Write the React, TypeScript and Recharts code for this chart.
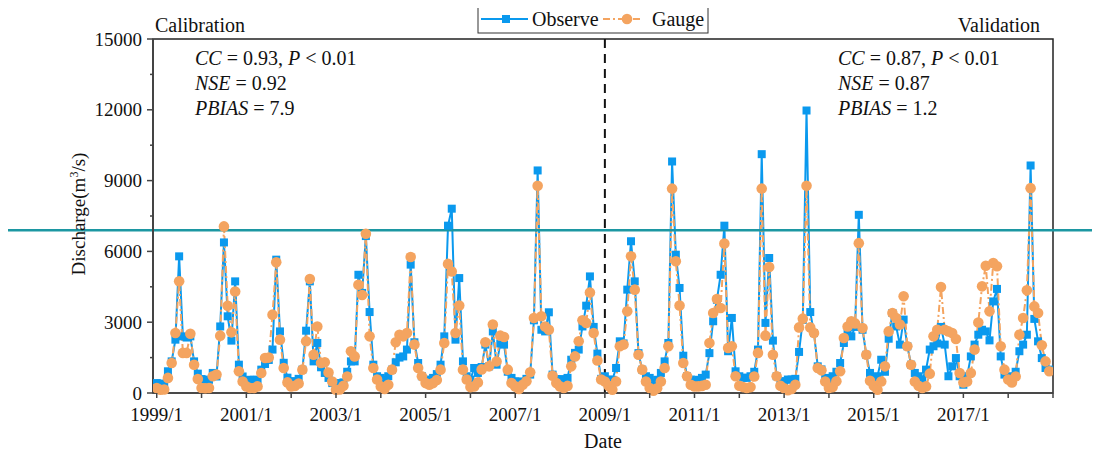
import React from "react";
import {
  LineChart,
  Line,
  XAxis,
  YAxis,
  ReferenceLine,
  ReferenceArea,
} from "recharts";

// Monthly discharge (m3/s), 1999/1 .. 2018/12
const observe = [
  420, 400, 360, 920, 1340, 2260, 5790, 2400, 2350, 2400, 1340, 820,
  590, 560, 560, 850, 700, 2820, 6380, 3250, 2220, 4730, 1200, 700,
  500, 560, 560, 560, 990, 1230, 1400, 1840, 5650, 2610, 1280, 650,
  500, 490, 600, 990, 2640, 4730, 1340, 2120, 1090, 850, 640, 420,
  420, 400, 450, 900, 1340, 1340, 5010, 4240, 6650, 3430, 1200, 710,
  640, 560, 710, 990, 1300, 1500, 1550, 1840, 5440, 2150, 1270, 710,
  570, 500, 640, 800, 1200, 2400, 7090, 7810, 2260, 4870, 1340, 710,
  570, 1060, 850, 1100, 2050, 1130, 2610, 1200, 2100, 2050, 900, 640,
  490, 490, 420, 600, 780, 3080, 9430, 2680, 2610, 3420, 780, 590,
  590, 500, 640, 1410, 1700, 1840, 2820, 3700, 4940, 2800, 1670, 600,
  710, 570, 560, 1060, 2190, 2100, 4380, 6430, 4730, 1690, 990, 710,
  640, 420, 560, 850, 1340, 2120, 9810, 5860, 4450, 1580, 710, 570,
  490, 560, 640, 780, 1690, 3040, 3950, 5010, 7090, 1770, 3180, 920,
  710, 650, 640, 710, 900, 1840, 10120, 2970, 5720, 2220, 710, 490,
  500, 570, 570, 600, 1740, 3100, 11970, 3430, 2540, 1130, 1000, 640,
  560, 710, 900, 1270, 2120, 2540, 2400, 2800, 7550, 2680, 1620, 850,
  640, 710, 1410, 900, 2300, 3390, 2820, 2050, 3110, 1980, 1200, 850,
  710, 570, 990, 1840, 1980, 2100, 2800, 2050, 710, 1130, 1480, 710,
  350, 710, 1550, 2050, 2470, 2680, 2610, 2230, 3880, 4410, 1550, 780,
  710, 640, 900, 1770, 2050, 2470, 9640, 3140, 2190, 1480, 1060, 990,
];

const gauge = [
  210, 140, 150, 640, 1270, 2540, 4730, 1700, 1700, 2510, 1200, 590,
  210, 200, 210, 710, 780, 2430, 7060, 3700, 2570, 4300, 920, 490,
  280, 210, 210, 280, 850, 1480, 1500, 3320, 5540, 2260, 1060, 450,
  280, 300, 400, 990, 2190, 4830, 1620, 2820, 1270, 1300, 870, 490,
  140, 150, 310, 700, 1770, 1550, 4590, 4150, 6750, 2400, 1060, 570,
  280, 170, 350, 990, 2150, 2470, 2400, 2540, 5760, 2050, 1060, 710,
  420, 350, 420, 550, 990, 2120, 5470, 5150, 2540, 3710, 990, 570,
  250, 280, 450, 1000, 2150, 1130, 2900, 1340, 2430, 2370, 990, 420,
  280, 170, 350, 500, 880, 3180, 8780, 3250, 2820, 2680, 730, 420,
  280, 210, 300, 1130, 1550, 2190, 3080, 2970, 4260, 2540, 1380, 570,
  490, 300, 140, 490, 1980, 2050, 3460, 5790, 4380, 1620, 990, 490,
  210, 100, 200, 490, 1060, 1980, 8660, 5580, 3710, 1270, 710, 350,
  280, 280, 300, 350, 2120, 3390, 3980, 3600, 6330, 1910, 1980, 710,
  310, 250, 210, 250, 700, 1700, 8660, 2430, 5340, 1620, 710, 310,
  200, 120, 170, 350, 2780, 3150, 8780, 2780, 2540, 1060, 960, 490,
  210, 250, 500, 920, 2330, 2820, 3040, 2950, 6350, 2750, 1620, 520,
  310, 140, 490, 1130, 2610, 3390, 3180, 2900, 4100, 1980, 1200, 490,
  310, 210, 280, 820, 2400, 2680, 4490, 2680, 2610, 2540, 2290, 850,
  450, 490, 850, 1840, 2990, 4520, 5390, 3460, 5510, 5370, 1980, 990,
  570, 450, 700, 2470, 3180, 4350, 8680, 3670, 3390, 2020, 1340, 920,
];

// month index of each yearly tick (0 = 1999/1)
const monthTicks = [
  0, 12, 24, 36, 48, 60, 72, 84, 96, 108, 120, 132, 144, 156, 168, 180, 192,
  204, 216, 228, 240,
];
const yearLabels = [
  "1999/1", "2001/1", "2003/1", "2005/1", "2007/1",
  "2009/1", "2011/1", "2013/1", "2015/1", "2017/1",
];
const yTicks = [
  0, 1500, 3000, 4500, 6000, 7500, 9000, 10500, 12000, 13500, 15000,
];
const splitMonth = 120; // calibration / validation boundary
const threshold = 6900;

const data = observe.map((v, i) => ({ month: i, observe: v, gauge: gauge[i] }));

const FONT = '"Liberation Serif", "Times New Roman", serif';
const BLUE = "#0a99ee";
const ORANGE = "#f4a460";
const AXIS = "#444";

const renderXTick = (props: any) => {
  const { x, y, payload } = props;
  const t = payload.value as number;
  const label = t % 24 === 0 ? yearLabels[t / 24] : undefined;
  return (
    <g>
      <line x1={x} x2={x} y1={y} y2={y + 5} stroke={AXIS} strokeWidth={1.5} />
      {label && (
        <text x={x} y={y + 28} textAnchor="middle" fontSize={19} fontFamily={FONT} fill="#111">
          {label}
        </text>
      )}
    </g>
  );
};

const renderYTick = (props: any) => {
  const { x, y, payload } = props;
  const v = payload.value as number;
  const major = v % 3000 === 0;
  return (
    <g>
      <line x1={x} x2={x - (major ? 6 : 3)} y1={y} y2={y} stroke={AXIS} strokeWidth={1.5} />
      {major && (
        <text x={x - 11} y={y} dy={6.5} textAnchor="end" fontSize={19} fontFamily={FONT} fill="#111">
          {v}
        </text>
      )}
    </g>
  );
};

const SquareDot = (props: any) => {
  const { cx, cy, index } = props;
  if (cx == null || cy == null) return <g key={`o${index}`} />;
  return <rect key={`o${index}`} x={cx - 4} y={cy - 4} width={8} height={8} fill={BLUE} />;
};

const CircleDot = (props: any) => {
  const { cx, cy, index } = props;
  if (cx == null || cy == null) return <g key={`g${index}`} />;
  return <circle key={`g${index}`} cx={cx} cy={cy} r={5.3} fill={ORANGE} />;
};

const Stats = ({ x, cc, nse, pbias }: { x: number; cc: string; nse: string; pbias: string }) => (
  <g fontSize={20} fontFamily={FONT} fill="#111">
    <text x={x} y={65}>
      <tspan fontStyle="italic">CC</tspan>
      {` = ${cc}, `}
      <tspan fontStyle="italic">P</tspan>
      {" < 0.01"}
    </text>
    <text x={x} y={90}>
      <tspan fontStyle="italic">NSE</tspan>
      {` = ${nse}`}
    </text>
    <text x={x} y={115}>
      <tspan fontStyle="italic">PBIAS</tspan>
      {` = ${pbias}`}
    </text>
  </g>
);

export default function App() {
  return (
    <div style={{ position: "relative", width: 1100, height: 460, margin: -8, background: "#fff" }}>
      <LineChart
        width={1100}
        height={460}
        data={data}
        margin={{ top: 39, right: 47, bottom: 27, left: 0 }}
        style={{ fontFamily: FONT }}
      >
        <XAxis
          dataKey="month"
          type="number"
          domain={[-1, 240]}
          allowDataOverflow
          ticks={monthTicks}
          interval={0}
          tick={renderXTick}
          tickLine={false}
          tickSize={0}
          tickMargin={0}
          height={40}
          axisLine={{ stroke: AXIS, strokeWidth: 1.5 }}
        />
        <YAxis
          type="number"
          domain={[0, 15000]}
          ticks={yTicks}
          interval={0}
          tick={renderYTick}
          tickLine={false}
          tickSize={0}
          tickMargin={0}
          width={153}
          axisLine={{ stroke: AXIS, strokeWidth: 2 }}
        />
        <ReferenceArea
          x1={-1}
          x2={240}
          y1={0}
          y2={15000}
          fill="none"
          fillOpacity={0}
          stroke="#222"
          strokeWidth={1.5}
        />
        <ReferenceLine x={splitMonth} stroke="#111" strokeWidth={2} strokeDasharray="9 6" />
        <Line
          type="linear"
          dataKey="observe"
          stroke={BLUE}
          strokeWidth={2}
          dot={SquareDot}
          activeDot={false}
          isAnimationActive={false}
        />
        <Line
          type="linear"
          dataKey="gauge"
          stroke={ORANGE}
          strokeWidth={2}
          strokeDasharray="7 3 2 3"
          dot={CircleDot}
          activeDot={false}
          isAnimationActive={false}
        />
        <ReferenceLine
          y={threshold}
          shape={(p: any) => (
            <line x1={4} x2={1100} y1={p.y1} y2={p.y1} stroke="#1c97a2" strokeWidth={2.5} />
          )}
        />
      </LineChart>

      <svg
        width={1100}
        height={460}
        style={{ position: "absolute", left: 0, top: 0, pointerEvents: "none" }}
      >
        <g fontFamily={FONT} fill="#111">
          <text x={155} y={32} fontSize={20}>Calibration</text>
          <text x={1040} y={32} fontSize={20} textAnchor="end">Validation</text>
          <text x={603} y={448} fontSize={20} textAnchor="middle">Date</text>
          <text transform="translate(85,214) rotate(-90)" fontSize={19} textAnchor="middle">
            Discharge(m
            <tspan dy={-7} fontSize={12}>3</tspan>
            <tspan dy={7}>/s)</tspan>
          </text>
        </g>
        <Stats x={195} cc="0.93" nse="0.92" pbias="7.9" />
        <Stats x={838} cc="0.87" nse="0.87" pbias="1.2" />

        {/* legend */}
        <g fontFamily={FONT} fontSize={20} fill="#111">
          <rect x={478} y={5} width={230} height={28} fill="#fff" stroke="#333" strokeWidth={1} />
          <line x1={481} x2={528} y1={19} y2={19} stroke={BLUE} strokeWidth={2} />
          <rect x={502} y={15} width={8} height={8} fill={BLUE} />
          <text x={532} y={26}>Observe</text>
          <line x1={603} x2={643} y1={19} y2={19} stroke={ORANGE} strokeWidth={2} strokeDasharray="7 3 2 3" />
          <circle cx={627} cy={19} r={5.3} fill={ORANGE} />
          <text x={652} y={26}>Gauge</text>
        </g>
      </svg>
    </div>
  );
}
